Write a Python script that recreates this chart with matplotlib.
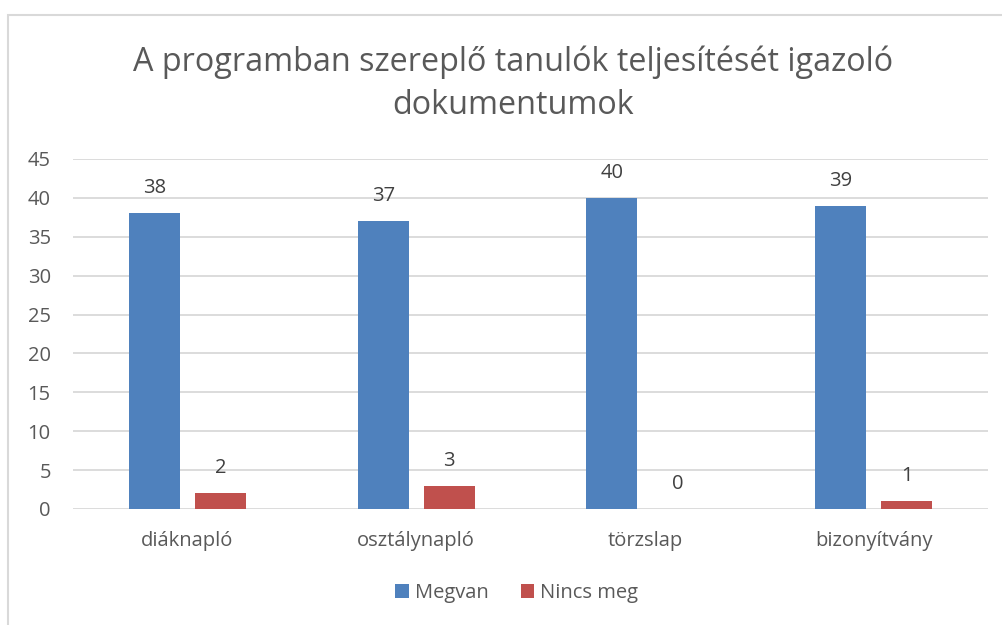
import numpy as np
import matplotlib.pyplot as plt
from matplotlib.patches import Rectangle

plt.rcParams['font.family'] = ['Open Sans', 'DejaVu Sans']

# Chart data
categories = ["diáknapló", "osztálynapló", "törzslap", "bizonyítvány"]
megvan = [38, 37, 40, 39]
nincs_meg = [2, 3, 0, 1]
series_names = ["Megvan", "Nincs meg"]
title = "A programban szereplő tanulók teljesítését igazoló\ndokumentumok"

blue = "#4F81BD"
red = "#C0504D"
text_col = "#595959"
grid_col = "#D9D9D9"

fig = plt.figure(figsize=(10.03, 6.25), dpi=100)
ax = fig.add_axes([0.0728, 0.1856, 0.9122, 0.56])

x = np.arange(len(categories))
w = 0.223
off = 0.144
b1 = ax.bar(x - off, megvan, w, color=blue, zorder=3, label=series_names[0])
b2 = ax.bar(x + off, nincs_meg, w, color=red, zorder=3, label=series_names[1])

for bars in (b1, b2):
    for rect in bars:
        h = rect.get_height()
        ax.annotate(f"{h:g}", (rect.get_x() + rect.get_width() / 2, h),
                    xytext=(0, 18), textcoords="offset points",
                    ha="center", va="center", fontsize=14.5, color="#404040")

ax.set_xlim(-0.5, len(categories) - 0.5)
ax.set_ylim(0, 45)
ax.set_yticks(np.arange(0, 46, 5))
ax.yaxis.grid(True, color=grid_col, linewidth=1.3, zorder=0)
ax.set_axisbelow(True)
for s in ax.spines.values():
    s.set_visible(False)
ax.tick_params(axis="both", length=0, labelsize=14.5, labelcolor=text_col)
ax.tick_params(axis="y", pad=16)
ax.tick_params(axis="x", pad=16)
ax.set_xticks(x)
ax.set_xticklabels(categories)

fig.text(0.512, 0.866, title, ha="center", va="center", fontsize=23.3,
         color=text_col, linespacing=1.4)

ax.legend(loc="center", bbox_to_anchor=(0.515, 0.051), bbox_transform=fig.transFigure,
          ncol=2, frameon=False, fontsize=14.5, labelcolor=text_col,
          handlelength=0.65, handleheight=0.65, handletextpad=0.3, columnspacing=1.6)

# chart border
fig.patches.append(Rectangle((8 / 1003, -0.1), 1.2, 1 - 15 / 625 + 0.1,
                             transform=fig.transFigure, fill=False,
                             edgecolor=grid_col, linewidth=1.5))

fig.savefig("out.png", dpi=100)
